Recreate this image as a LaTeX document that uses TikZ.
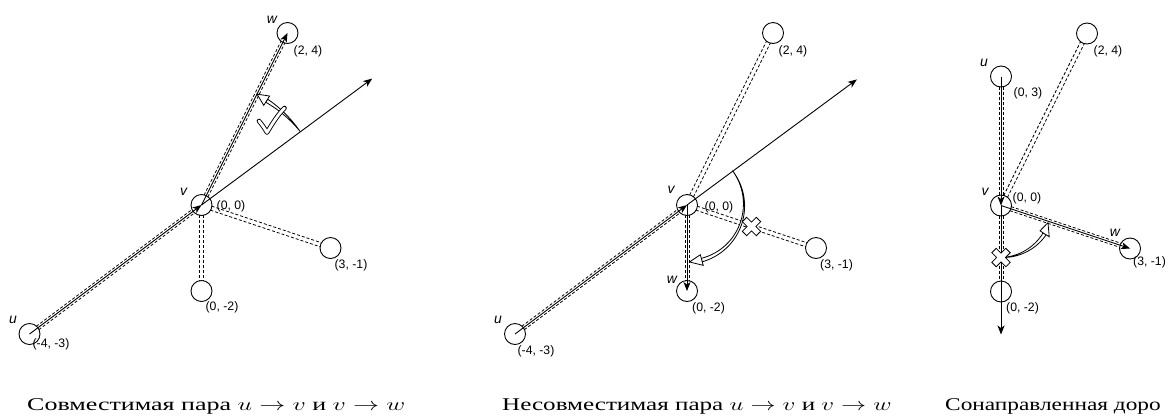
\RequirePackage{fix-cm}
\documentclass[tikz,border=0pt]{standalone}
\usepackage{graphicx}
\usepackage{fontspec}
\newfontfamily\capfont{Liberation Serif}
\newfontfamily\lblfont{Liberation Sans}
\usetikzlibrary{arrows.meta,calc,backgrounds}
\tikzset{
  vert/.style={circle, draw, line width=0.9bp, fill=white, minimum size=21bp, inner sep=0pt},
  coordlbl/.style={font=\lblfont\fontsize{12.3}{14}\selectfont, inner sep=0pt, anchor=center},
  namelbl/.style={font=\lblfont\itshape\fontsize{14}{16}\selectfont, inner sep=0pt, anchor=center},
  roadline/.style={line width=0.8bp, dash pattern=on 3bp off 2bp},
  arr/.style={line width=0.9bp, -{Stealth[length=9bp,width=7bp,inset=2.5bp]}},
  captext/.style={font=\capfont\fontsize{18}{20}\selectfont, inner sep=0pt, anchor=base west},
  checkstroke/.style={line cap=round, line join=round},
}
\newcommand\road[2]{%
  \draw[roadline] ($(#1.center)!2.1bp!90:(#2.center)$) -- ($(#2.center)!2.1bp!-90:(#1.center)$);
  \draw[roadline] ($(#1.center)!2.1bp!-90:(#2.center)$) -- ($(#2.center)!2.1bp!90:(#1.center)$);
}
\newcommand\crossX[1]{%
  \draw[line width=7bp, line cap=butt] ([shift={(-7.3bp,-7.3bp)}]#1) -- ([shift={(7.3bp,7.3bp)}]#1) ([shift={(-7.3bp,7.3bp)}]#1) -- ([shift={(7.3bp,-7.3bp)}]#1);
  \draw[white, line width=5.2bp, line cap=butt] ([shift={(-6.6bp,-6.6bp)}]#1) -- ([shift={(6.6bp,6.6bp)}]#1) ([shift={(-6.6bp,6.6bp)}]#1) -- ([shift={(6.6bp,-6.6bp)}]#1);
}
% #1 radius px, #2 start angle, #3 base angle, #4 tip angle, #5 tip radius px
\newcommand\turnarrow[5]{%
  \filldraw[fill=white, line width=0.8bp, line join=round]
    plot[domain=#2:#3, samples=40] ({(#1+1.8*((\x)-(#2))/((#3)-(#2)))/43*cos(\x)}, {(#1+1.8*((\x)-(#2))/((#3)-(#2)))/43*sin(\x)})
    -- plot[domain=#3:#2, samples=40] ({(#1-1.8*((\x)-(#2))/((#3)-(#2)))/43*cos(\x)}, {(#1-1.8*((\x)-(#2))/((#3)-(#2)))/43*sin(\x)})
    -- cycle;
  \filldraw[fill=white, line width=0.8bp, line join=miter]
    ({(#1+5.5)/43*cos(#3)}, {(#1+5.5)/43*sin(#3)}) -- ({(#5)/43*cos(#4)}, {(#5)/43*sin(#4)}) -- ({(#1-5.5)/43*cos(#3)}, {(#1-5.5)/43*sin(#3)}) -- cycle;
}
\begin{document}
\begin{tikzpicture}[x=1bp,y=1bp]
\useasboundingbox (0,0) rectangle (1168,-415);

%% ---------------- Panel 1 ----------------
\begin{scope}[shift={(201.5bp,-205bp)}, x=43bp, y=43bp]
  \node[vert] (av) at (0,0) {};
  \node[vert] (aw) at (2,4) {};
  \node[vert] (au) at (-4,-3) {};
  \node[vert] (aa) at (0,-2) {};
  \node[vert] (ab) at (3,-1) {};
  \coordinate (aext) at (3.97,2.94);
  \begin{scope}[on background layer]
    \road{au}{av}\road{av}{aw}\road{av}{aa}\road{av}{ab}
  \end{scope}
  \draw[arr] (au.center) -- (av.center);
  \draw[arr] (av.center) -- (aext);
  \draw[arr] (av.center) -- (aw.center);
  \turnarrow{123}{36.87}{58}{63.4}{124}
  \draw[checkstroke, line width=4.6bp] (57.5bp,84bp) .. controls (60bp,81bp) and (63bp,77bp) .. (65.5bp,72.5bp) .. controls (70bp,80bp) and (76bp,90bp) .. (83bp,97bp);
  \draw[checkstroke, white, line width=2.8bp] (57.5bp,84bp) .. controls (60bp,81bp) and (63bp,77bp) .. (65.5bp,72.5bp) .. controls (70bp,80bp) and (76bp,90bp) .. (83bp,97bp);
  \node[coordlbl] (avl) at ([shift={(29.5bp,-1.5bp)}]av.center) {(0, 0)};
  \node[coordlbl] (awl) at ([shift={(20.5bp,-18bp)}]aw.center) {(2, 4)};
  \node[coordlbl] (abl) at ([shift={(20.5bp,-17.5bp)}]ab.center) {(3, -1)};
  \node[coordlbl] (aal) at ([shift={(20.5bp,-16bp)}]aa.center) {(0, -2)};
  \node[coordlbl] (aul) at ([shift={(21.5bp,-10bp)}]au.center) {(-4, -3)};
  \node[namelbl] (avn) at ([shift={(-18bp,13bp)}]av.center) {v};
  \node[namelbl] (awn) at ([shift={(-15.5bp,13bp)}]aw.center) {w};
  \node[namelbl] (aun) at ([shift={(-16.5bp,14bp)}]au.center) {u};
\end{scope}

%% ---------------- Panel 2 ----------------
\begin{scope}[shift={(687bp,-205bp)}, x=43bp, y=43bp]
  \node[vert] (bv) at (0,0) {};
  \node[vert] (bt) at (2,4) {};
  \node[vert] (bu) at (-4,-3) {};
  \node[vert] (bw) at (0,-2) {};
  \node[vert] (bb) at (3,-1) {};
  \coordinate (bext) at (3.95,2.92);
  \coordinate (bx) at (1.5,-0.5);
  \begin{scope}[on background layer]
    \road{bu}{bv}\road{bv}{bt}\road{bv}{bw}\road{bv}{bb}
  \end{scope}
  \draw[arr] (bu.center) -- (bv.center);
  \draw[arr] (bv.center) -- (bext);
  \draw[arr] (bv.center) -- (bw.center);
  \turnarrow{57}{36.87}{-75}{-87.5}{57}
  \crossX{bx}
  \node[coordlbl] (bvl) at ([shift={(32bp,-2bp)}]bv.center) {(0, 0)};
  \node[coordlbl] (btl) at ([shift={(20bp,-18bp)}]bt.center) {(2, 4)};
  \node[coordlbl] (bbl) at ([shift={(20.5bp,-17bp)}]bb.center) {(3, -1)};
  \node[coordlbl] (bwl) at ([shift={(21.5bp,-17.5bp)}]bw.center) {(0, -2)};
  \node[coordlbl] (bul) at ([shift={(21bp,-17.5bp)}]bu.center) {(-4, -3)};
  \node[namelbl] (bvn) at ([shift={(-16bp,15bp)}]bv.center) {v};
  \node[namelbl] (bwn) at ([shift={(-15bp,11bp)}]bw.center) {w};
  \node[namelbl] (bun) at ([shift={(-17bp,14bp)}]bu.center) {u};
\end{scope}

%% ---------------- Panel 3 ----------------
\begin{scope}[shift={(1001bp,-205.5bp)}, x=43bp, y=43bp]
  \node[vert] (cv) at (0,0) {};
  \node[vert] (ct) at (2,4) {};
  \node[vert] (cu) at (0,3) {};
  \node[vert] (ca) at (0,-2) {};
  \node[vert] (cw) at (3,-1) {};
  \coordinate (cext) at (0,-3);
  \coordinate (cx) at (0,-1.21);
  \begin{scope}[on background layer]
    \road{cu}{cv}\road{cv}{ct}\road{cv}{ca}\road{cv}{cw}
  \end{scope}
  \draw[arr] (cu.center) -- (cv.center);
  \draw[arr] (cv.center) -- (cext);
  \draw[arr] (cv.center) -- (cw.center);
  \turnarrow{52}{-90}{-33}{-20}{50}
  \crossX{cx}
  \node[coordlbl] (cul) at ([shift={(27bp,-16.5bp)}]cu.center) {(0, 3)};
  \node[coordlbl] (cvl) at ([shift={(26bp,7.5bp)}]cv.center) {(0, 0)};
  \node[coordlbl] (cwl) at ([shift={(19.5bp,-14bp)}]cw.center) {(3, -1)};
  \node[coordlbl] (cal) at ([shift={(21.5bp,-17bp)}]ca.center) {(0, -2)};
  \node[coordlbl] (ctl) at ([shift={(21bp,-17.5bp)}]ct.center) {(2, 4)};
  \node[namelbl] (cun) at ([shift={(-17bp,14bp)}]cu.center) {u};
  \node[namelbl] (cvn) at ([shift={(-16bp,13.5bp)}]cv.center) {v};
  \node[namelbl] (cwn) at ([shift={(-15bp,15.5bp)}]cw.center) {w};
\end{scope}

%% ---------------- Captions ----------------
\node[captext] (cap1) at (27,-410) {\scalebox{1.45}[1]{Совместимая пара $u \to v$ и $v \to w$}};
\node[captext] (cap2) at (502,-410) {\scalebox{1.4}[1]{Несовместимая пара $u \to v$ и $v \to w$}};
\node[captext] (cap3) at (945,-410) {\scalebox{1.3}[1]{Сонаправленная доро}};
\end{tikzpicture}
\end{document}
